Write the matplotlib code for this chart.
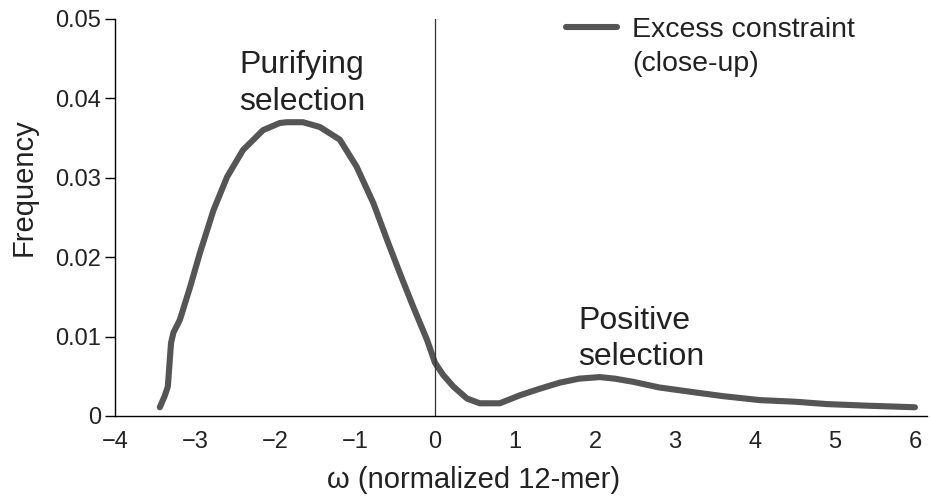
import matplotlib
matplotlib.use('Agg')
import matplotlib.pyplot as plt

plt.rcParams['font.family'] = ['Liberation Sans', 'DejaVu Sans']

# excess constraint close-up
omega = [-3.44, -3.38, -3.34, -3.30, -3.27, -3.19, -3.06, -2.94, -2.77, -2.60,
         -2.40, -2.15, -1.94, -1.85, -1.65, -1.44, -1.19, -0.98, -0.77, -0.60,
         -0.44, -0.27, -0.10, 0.00, 0.10, 0.23, 0.40, 0.56, 0.81, 1.06,
         1.30, 1.56, 1.80, 2.06, 2.25, 2.48, 2.80, 3.23, 3.60, 4.06,
         4.50, 4.90, 5.40, 6.00]
freq = [0.0011, 0.0025, 0.0037, 0.0092, 0.0105, 0.0121, 0.0163, 0.0205, 0.0259, 0.0301,
        0.0335, 0.0360, 0.0369, 0.0370, 0.0370, 0.0364, 0.0348, 0.0314, 0.0268, 0.0222,
        0.0180, 0.0137, 0.0096, 0.0067, 0.0052, 0.0037, 0.0022, 0.0016, 0.0016, 0.0026,
        0.0034, 0.0042, 0.0047, 0.0049, 0.0047, 0.0043, 0.0036, 0.0030, 0.0025, 0.0020,
        0.0018, 0.0015, 0.0013, 0.0011]

xticks = [-4, -3, -2, -1, 0, 1, 2, 3, 4, 5, 6]
xticklabels = ['\u22124', '\u22123', '\u22122', '\u22121', '0', '1', '2', '3', '4', '5', '6']
yticks = [0, 0.01, 0.02, 0.03, 0.04, 0.05]
yticklabels = ['0', '0.01', '0.02', '0.03', '0.04', '0.05']

txt = '#222222'
fig = plt.figure(figsize=(9.3, 4.96), dpi=100)
ax = fig.add_axes([0.1237, 0.1613, 0.873, 0.8004])

ax.plot(omega, freq, color='#555555', lw=4.4, solid_capstyle='round',
        solid_joinstyle='round', label='Excess constraint')
ax.axvline(0, color='#333333', lw=0.9)

ax.set_xlim(-4, 6.15)
ax.set_ylim(0, 0.05)
for s in ['top', 'right']:
    ax.spines[s].set_visible(False)
ax.spines['left'].set_linewidth(1.0)
ax.spines['bottom'].set_linewidth(1.0)

ax.set_xticks(xticks)
ax.set_xticklabels(xticklabels)
ax.set_yticks(yticks)
ax.set_yticklabels(yticklabels)
ax.tick_params(axis='x', length=0, pad=11, labelsize=17, labelcolor=txt)
ax.tick_params(axis='y', length=7, width=1, pad=3, labelsize=17, labelcolor=txt)
ax.set_xticks([5], minor=True)
ax.tick_params(axis='x', which='minor', direction='in', length=6, width=1)

ax.set_xlabel('\u03c9 (normalized 12-mer)', fontsize=21, color=txt)
ax.xaxis.set_label_coords(0.442, -0.126)
ax.set_ylabel('Frequency', fontsize=21, color=txt)
ax.yaxis.set_label_coords(-0.095, 0.577)

ax.text(-2.45, 0.0419, 'Purifying\nselection', fontsize=23, color=txt,
        ha='left', va='center', linespacing=1.3)
ax.text(1.79, 0.0097, 'Positive\nselection', fontsize=23, color=txt,
        ha='left', va='center', linespacing=1.25)

leg = ax.legend(loc='center left', bbox_to_anchor=(0.5554, 0.972), frameon=False,
                fontsize=20.5, handlelength=1.79, handletextpad=0.53,
                borderpad=0, borderaxespad=0)
for t in leg.get_texts():
    t.set_color(txt)
ax.text(0.6367, 0.8867, '(close-up)', transform=ax.transAxes, fontsize=20.5,
        color=txt, ha='left', va='center')

fig.savefig('out.png', dpi=100)
